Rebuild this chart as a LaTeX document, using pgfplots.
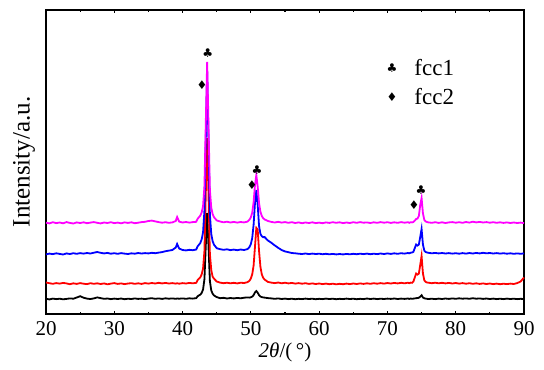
\documentclass[border=0pt]{standalone}
\usepackage{fontspec}
\setmainfont{Liberation Serif}
\newfontfamily\symfont{DejaVu Sans}
\usepackage{pgfplots}
\usepackage{pgfplotstable}
\pgfplotsset{compat=1.18}
\usetikzlibrary{calc}
\definecolor{cmag}{RGB}{255,0,255}
\definecolor{cblue}{RGB}{0,0,255}
\definecolor{cred}{RGB}{255,0,0}
\pgfplotstableread{
x k r b m
20.0 15.2 31.5 59.6 91.3
20.5 14.6 30.8 60.4 90.6
21.0 15.4 30.2 59.9 91.8
21.5 14.9 30.9 60.7 90.9
22.0 15.3 30.4 60.1 91.5
22.5 14.7 31.1 59.5 90.7
23.0 15.1 30.6 60.6 91.9
23.5 15.6 29.8 60.0 91.1
24.0 15.3 30.7 60.8 90.5
24.5 16.5 30.1 60.2 91.6
25.0 17.8 30.9 60.9 91.0
25.5 16.3 30.3 60.4 91.7
26.0 15.4 29.9 61.0 90.8
26.5 15.0 30.8 60.5 91.4
27.0 15.6 30.2 61.3 91.9
27.5 16.6 30.7 62.0 91.2
28.0 15.9 30.0 61.2 90.6
28.5 15.2 30.6 60.6 91.5
29.0 15.5 29.7 61.1 91.0
29.5 14.9 30.4 60.3 91.8
30.0 15.4 30.9 60.8 90.9
30.5 15.0 30.1 60.2 91.4
31.0 15.5 30.6 60.9 90.7
31.5 14.8 29.9 60.4 91.6
32.0 15.3 30.5 60.0 91.1
32.5 15.0 30.8 60.7 91.7
33.0 15.6 30.2 60.3 90.8
33.5 15.1 30.7 61.0 91.3
34.0 15.4 30.1 60.5 91.9
34.5 14.9 30.9 60.9 92.2
35.0 15.5 30.4 60.6 93.0
35.5 15.8 31.0 61.2 93.4
36.0 15.2 30.5 60.8 92.6
36.5 15.6 31.2 61.4 91.9
37.0 15.1 30.6 61.9 91.3
37.5 15.7 31.1 62.8 91.8
38.0 15.3 30.5 63.4 91.2
38.5 15.6 30.9 64.0 91.6
39.0 15.2 30.4 66.5 93.0
39.2 15.5 30.8 70.0 97.0
39.5 15.3 30.3 65.5 92.4
40.0 15.6 30.9 64.0 91.5
40.5 15.2 30.5 63.6 92.0
41.0 15.7 31.1 64.2 91.4
41.5 15.4 30.7 63.8 91.9
42.0 15.9 31.2 64.5 92.2
42.2 17.7 33.9 67.6 95.2
42.4 18.6 35.4 69.3 96.8
42.6 19.4 36.8 71.1 98.4
42.8 21.1 39.7 74.7 101.6
43.0 24.5 45.5 81.8 108.0
43.2 34.7 62.9 103.2 127.2
43.4 68.7 120.9 174.4 191.2
43.6 101.0 176.0 242.0 252.0
43.8 67.0 118.0 170.8 188.0
44.0 33.0 60.0 99.6 124.0
44.2 23.6 44.1 80.0 106.4
44.4 20.3 37.3 72.9 100.0
44.6 18.6 35.4 69.3 96.8
44.8 17.7 33.9 67.6 95.2
45.0 16.9 32.5 65.8 93.6
45.5 15.8 31.4 64.8 92.5
46.0 16.2 30.8 64.2 91.7
46.5 15.5 31.3 64.7 92.3
47.0 16.0 30.7 63.9 91.5
47.5 15.6 31.2 64.4 92.1
48.0 16.1 30.6 63.8 91.4
48.5 15.7 31.3 64.5 92.0
49.0 16.3 31.0 64.0 91.6
49.5 16.6 31.8 64.9 92.4
49.8 16.4 33.3 67.0 94.4
50.0 16.7 35.6 70.0 96.7
50.2 17.4 39.7 76.0 101.4
50.4 18.9 48.4 89.2 111.7
50.6 21.5 67.0 110.8 128.7
50.8 23.0 86.1 124.0 139.0
51.0 21.3 84.4 109.0 127.3
51.2 18.8 62.9 88.0 110.8
51.4 17.5 47.2 80.2 102.3
51.6 16.9 39.7 77.8 98.1
51.8 16.6 36.2 76.8 95.8
52.0 16.4 34.5 77.0 94.6
52.5 15.9 32.1 73.5 93.0
53.0 15.6 31.4 71.2 92.1
53.5 15.2 30.9 68.6 91.5
54.0 15.6 31.5 66.2 92.2
54.5 15.0 30.7 64.0 91.4
55.0 15.4 31.3 62.6 91.9
55.5 14.9 30.6 61.8 91.2
56.0 15.3 31.1 61.0 91.8
56.5 14.8 30.4 60.7 91.0
57.0 15.2 30.9 60.3 91.6
57.5 14.9 30.3 60.0 90.8
58.0 15.4 30.8 60.5 91.5
58.5 15.0 30.1 59.9 91.0
59.0 15.3 30.6 60.4 91.7
59.5 14.8 30.0 60.0 90.9
60.0 15.2 30.5 60.3 91.4
60.5 14.9 29.9 59.8 90.8
61.0 15.4 30.4 60.2 91.6
61.5 15.0 29.8 59.7 91.1
62.0 15.3 30.3 60.1 91.8
62.5 14.8 29.7 59.6 91.2
63.0 15.2 30.2 60.0 91.7
63.5 14.9 29.8 59.6 90.9
64.0 15.4 30.4 60.1 91.5
64.5 15.0 29.9 59.7 91.0
65.0 15.3 30.5 60.2 91.8
65.5 14.8 30.0 59.8 91.2
66.0 15.2 30.6 60.3 91.9
66.5 14.9 30.1 59.9 91.3
67.0 15.5 30.7 60.4 91.6
67.5 15.0 30.2 59.8 91.0
68.0 15.4 30.8 60.3 91.7
68.5 14.9 30.3 59.9 91.2
69.0 15.3 30.9 60.5 91.9
69.5 15.0 30.4 60.0 91.3
70.0 15.4 31.0 60.6 91.8
70.5 15.1 30.5 60.1 91.1
71.0 15.5 31.1 60.7 91.7
71.5 15.0 30.6 60.2 91.2
72.0 15.4 31.2 60.8 91.9
72.5 15.1 30.7 60.4 91.3
73.0 15.5 31.3 61.0 91.8
73.2 15.1 30.8 60.7 91.2
73.4 15.5 31.4 61.3 91.8
73.6 15.2 31.2 61.5 91.6
73.8 15.4 32.4 62.2 92.0
74.0 15.6 36.4 65.8 93.3
74.2 15.8 40.5 69.5 95.0
74.4 16.0 39.4 68.4 95.4
74.6 16.2 40.4 69.4 98.0
74.8 17.4 49.0 77.0 109.0
75.0 18.8 58.0 85.0 116.0
75.2 16.5 40.5 69.4 100.6
75.4 15.7 33.7 63.4 94.1
75.6 15.4 32.1 62.0 92.5
75.8 15.2 31.5 61.5 92.0
76.0 15.0 31.3 61.2 91.6
76.5 15.3 30.8 60.7 91.2
77.0 14.9 31.3 61.1 91.8
77.5 15.4 30.7 60.6 91.1
78.0 15.0 31.2 61.0 91.7
78.5 15.5 30.6 60.5 91.0
79.0 15.1 31.1 60.9 91.6
79.5 15.6 30.5 60.4 91.9
80.0 15.2 31.0 60.8 91.3
80.5 15.7 30.4 60.3 91.8
81.0 15.3 30.9 60.9 91.2
81.5 15.6 30.3 60.4 92.0
82.0 15.2 30.8 61.0 91.4
82.5 15.8 30.2 60.5 92.3
83.0 15.3 30.7 61.1 91.6
83.5 15.6 30.1 60.6 92.1
84.0 15.1 30.6 61.2 91.5
84.5 15.5 30.0 60.7 91.9
85.0 15.0 30.5 61.0 91.3
85.5 15.4 29.9 60.5 91.8
86.0 14.9 30.4 60.9 91.2
86.5 15.3 29.8 60.4 91.7
87.0 14.9 30.3 60.8 91.1
87.5 15.4 29.9 60.3 91.6
88.0 15.0 30.4 60.7 91.0
88.5 15.3 30.0 60.2 91.5
89.0 14.9 30.9 60.6 91.0
89.5 15.2 32.5 60.2 91.4
90.0 15.0 36.5 60.6 90.9
}\xrd
\begin{document}
\begin{tikzpicture}
\begin{axis}[
  name=ax,
  scale only axis,
  width=239pt, height=152pt,
  xmin=20, xmax=90, ymin=0, ymax=304,
  xtick={20,30,...,90},
  minor x tick num=1,
  ytick=\empty,
  tick align=inside,
  xtick pos=both,
  major tick length=1.7pt,
  minor tick length=1.1pt,
  axis line style={line width=1pt},
  every tick/.style={line width=0.6pt, black},
  /pgf/number format/assume math mode=true,
  tick label style={font=\fontsize{10.5}{12}\selectfont},
  xlabel style={font=\fontsize{10.5}{12}\selectfont, yshift=3pt},
  ylabel style={font=\fontsize{12.5}{14}\selectfont, yshift=2pt},
  xlabel={{\itshape 2θ}/(\,°)},
  ylabel={Intensity/a.u.},
  clip=false,
]
\addplot[black, line width=0.9pt] table[x=x, y=k] {\xrd};
\addplot[cred, line width=0.9pt] table[x=x, y=r] {\xrd};
\addplot[cblue, line width=0.9pt] table[x=x, y=b] {\xrd};
\addplot[cmag, line width=0.9pt] table[x=x, y=m] {\xrd};
\node[font=\symfont\fontsize{6}{7}\selectfont] at (axis cs:43.7,261) {♣};
\node[font=\symfont\fontsize{6}{7}\selectfont] at (axis cs:42.85,229) {♦};
\node[font=\symfont\fontsize{6}{7}\selectfont] at (axis cs:50.9,144) {♣};
\node[font=\symfont\fontsize{6}{7}\selectfont] at (axis cs:50.15,129) {♦};
\node[font=\symfont\fontsize{6}{7}\selectfont] at (axis cs:74.9,124) {♣};
\node[font=\symfont\fontsize{6}{7}\selectfont] at (axis cs:73.9,109) {♦};
\node[font=\symfont\fontsize{6}{7}\selectfont] at (axis cs:70.66,246) {♣};
\node[font=\symfont\fontsize{6}{7}\selectfont] at (axis cs:70.66,217) {♦};
\node[anchor=west, inner sep=0pt, font=\fontsize{11.5}{13}\selectfont] at (axis cs:73.9,246) {fcc1};
\node[anchor=west, inner sep=0pt, font=\fontsize{11.5}{13}\selectfont] at (axis cs:73.9,217) {fcc2};
\end{axis}
\path[use as bounding box] ($(ax.south west)+(-23pt,-27.5pt)$) rectangle ($(ax.north east)+(10pt,5pt)$);
\end{tikzpicture}
\end{document}
